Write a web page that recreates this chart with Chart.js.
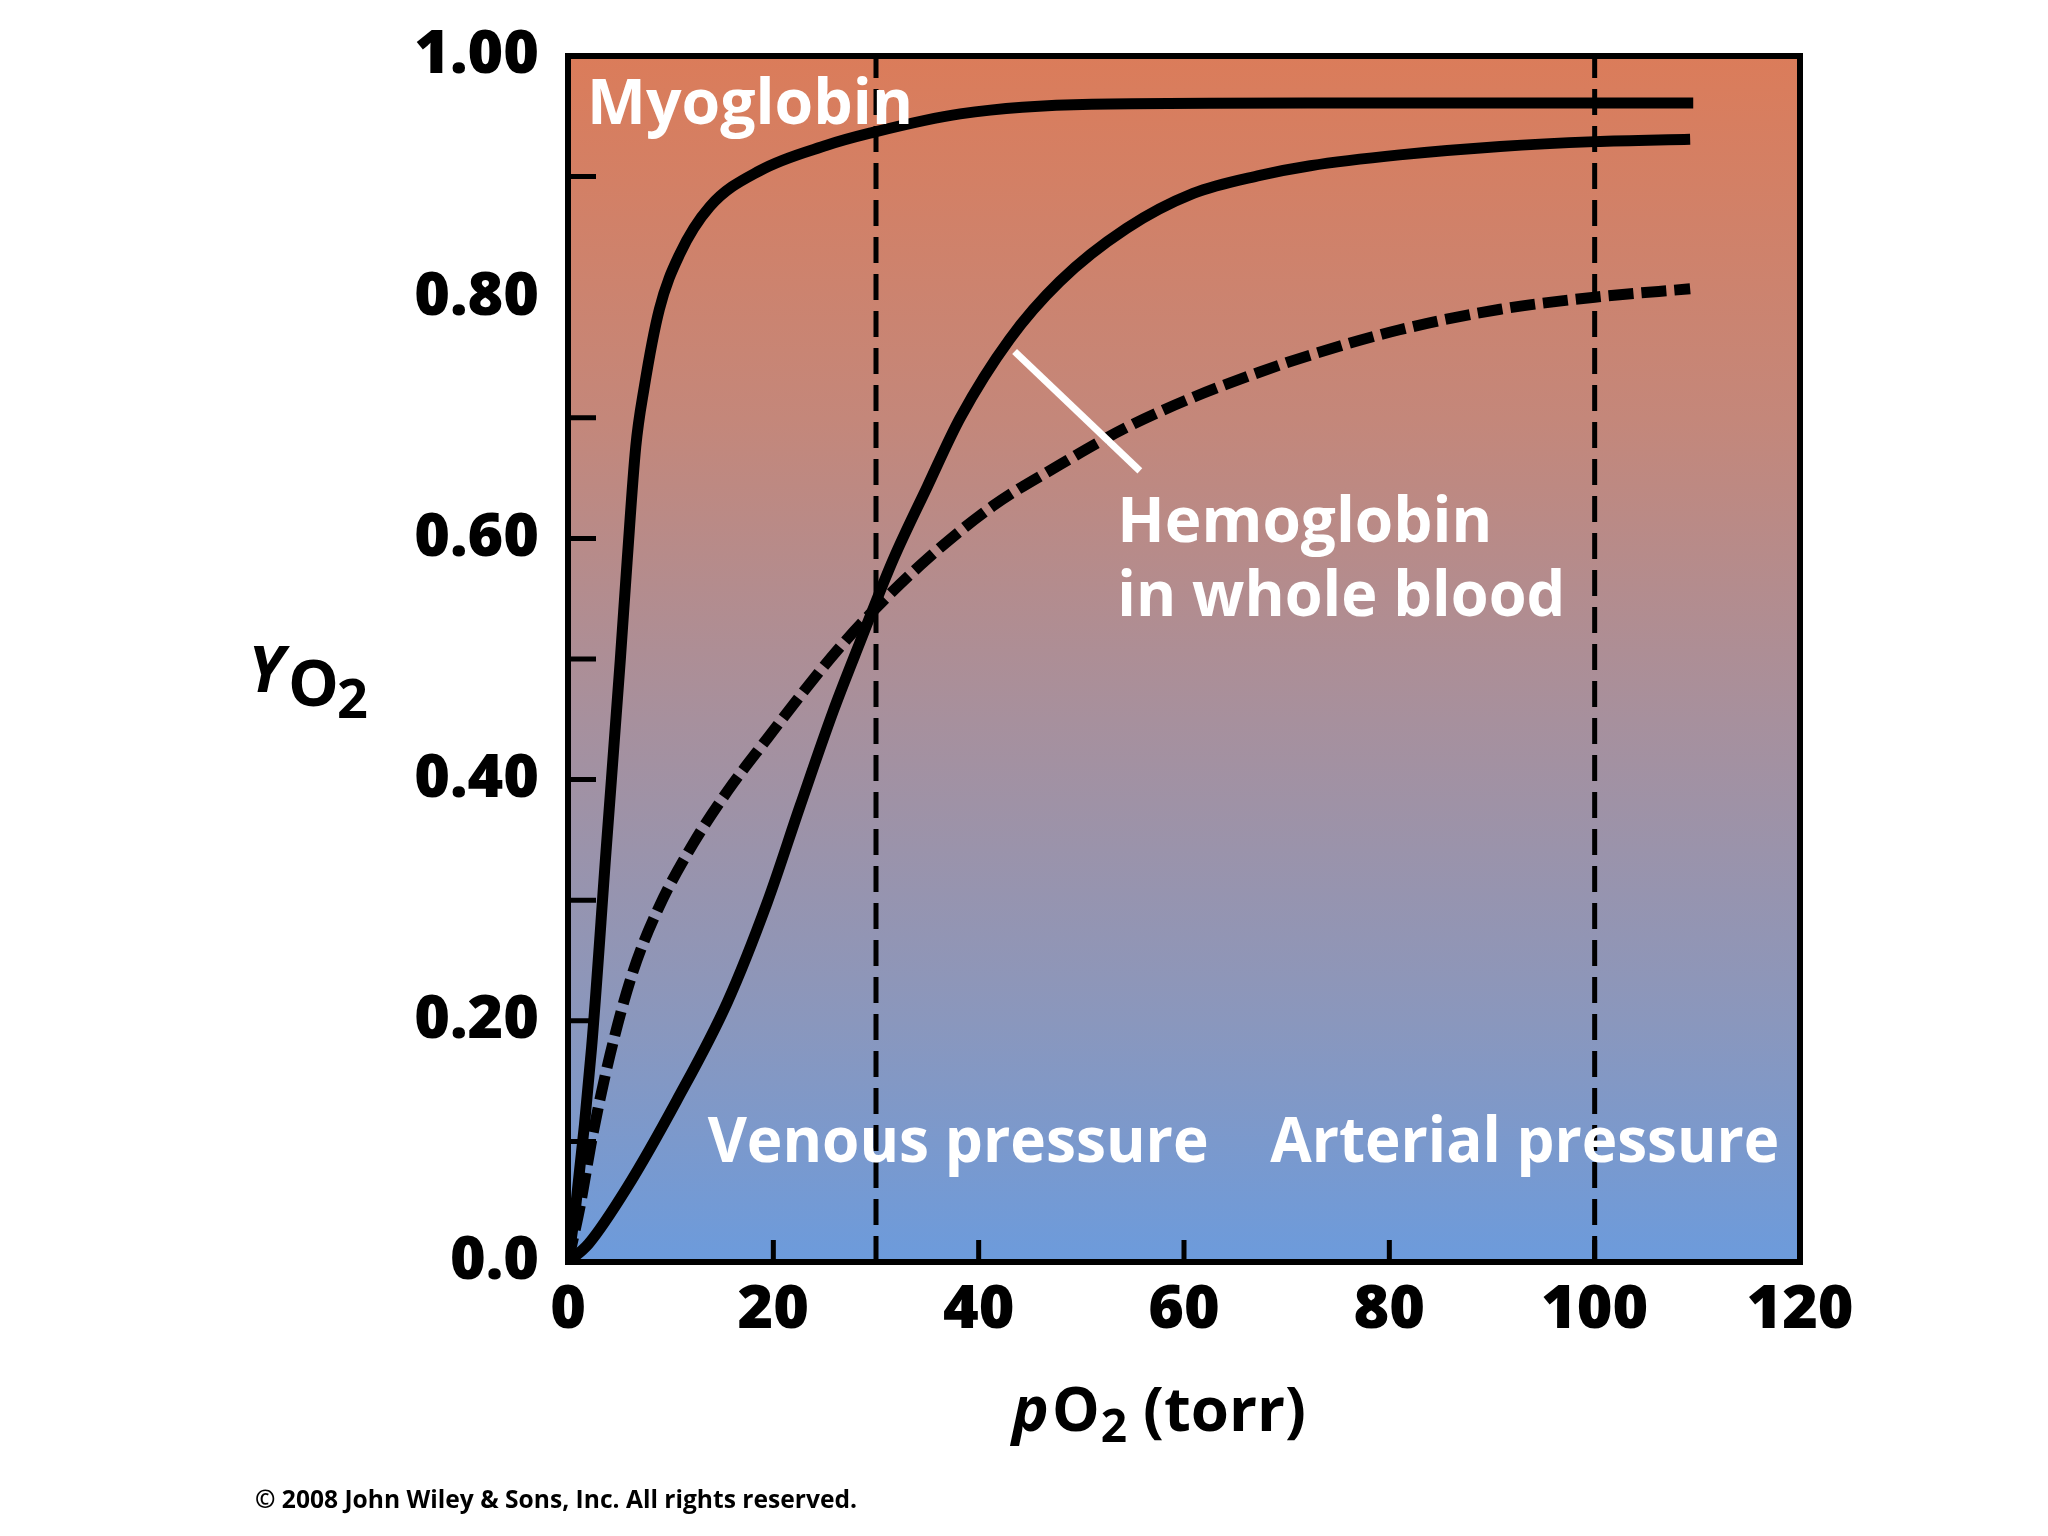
<!DOCTYPE html>
<html lang="en">
<head>
<meta charset="UTF-8">
<title>Oxygen binding curves</title>
<style>
    html, body { margin: 0; padding: 0; background: #fff; }
    canvas { display: block; }
</style>
</head>
<body>
<canvas id="chart" width="2048" height="1536"></canvas>
<script src="https://cdn.jsdelivr.net/npm/chart.js@4.4.1/dist/chart.umd.min.js"></script>
<script>
// values (pO2 in torr, fractional saturation)
const myoX = [0, 0.8, 2.3, 3.7, 5.1, 5.75, 6.6, 7.4, 8.9, 10.9, 13.8, 18.7, 25.2, 29.4, 38.2, 51, 72, 90, 109.6];
const myoY = [0, 0.05, 0.178, 0.34, 0.50, 0.58, 0.676, 0.724, 0.79, 0.836, 0.875, 0.905, 0.926, 0.936, 0.952, 0.96, 0.961, 0.961, 0.961];

const hbX = [0, 2, 5.7, 10.6, 15.5, 19.4, 22.6, 25.8, 28.4, 31.7, 35, 38.2, 43, 47.9, 54.4, 60.9, 67.4, 72.3, 81, 90.8, 100, 109.3];
const hbY = [0, 0.015, 0.061, 0.134, 0.215, 0.298, 0.378, 0.456, 0.513, 0.583, 0.643, 0.70, 0.765, 0.813, 0.857, 0.886, 0.901, 0.909, 0.918, 0.925, 0.929, 0.931];

const dashX = [0, 1.15, 2.4, 4.1, 6.3, 8.9, 12.2, 15.5, 19.4, 23.5, 26.2, 29.4, 35, 41.4, 47.9, 54.4, 60.9, 67.4, 72.3, 81, 90.8, 100, 109.3];
const dashY = [0, 0.045, 0.105, 0.172, 0.24, 0.295, 0.347, 0.39, 0.434, 0.479, 0.507, 0.537, 0.583, 0.627, 0.661, 0.692, 0.717, 0.738, 0.752, 0.773, 0.79, 0.80, 0.807];

const venous = 30;
const arterial = 100;
const pointerX = [43.5, 55.7];
const pointerY = [0.755, 0.656];

const xTicks = [0, 20, 40, 60, 80, 100, 120];
const xTickMarks = [20, 40, 60, 80, 100];
const yTicks = [0, 0.2, 0.4, 0.6, 0.8, 1.0];
const yTickLabels = ['0.0', '0.20', '0.40', '0.60', '0.80', '1.00'];
const yTickMarks = [0.1, 0.2, 0.3, 0.4, 0.5, 0.6, 0.7, 0.9];

const notes = [
    { text: 'Myoglobin', x: 1.85, y: 0.9436, w: 326 },
    { text: 'Hemoglobin', x: 53.5, y: 0.597, w: 375 },
    { text: 'in whole blood', x: 53.5, y: 0.536, w: 448 },
    { text: 'Venous pressure', x: 13.6, y: 0.083, w: 501 },
    { text: 'Arterial pressure', x: 68.4, y: 0.083, w: 509 }
];

const FONT = '"Open Sans", "Noto Sans", sans-serif';

function pts(xs, ys) {
    return xs.map((x, i) => ({ x: x, y: ys[i] }));
}

// draw text stretched/squeezed to a target width (the original face is narrower)
function fitText(ctx, text, x, y, w) {
    const m = ctx.measureText(text).width;
    ctx.save();
    ctx.translate(x, y);
    ctx.scale(w / m, 1);
    ctx.fillText(text, 0, 0);
    ctx.restore();
}

const backdrop = {
    id: 'backdrop',
    beforeDatasetsDraw(chart) {
        const { ctx, chartArea: a } = chart;
        const g = ctx.createLinearGradient(0, a.top, 0, a.bottom);
        g.addColorStop(0, '#db7c5a');
        g.addColorStop(0.3, '#c4877a');
        g.addColorStop(0.55, '#a7909d');
        g.addColorStop(0.8, '#8a97bd');
        g.addColorStop(1, '#6c9bdc');
        ctx.save();
        ctx.fillStyle = g;
        ctx.fillRect(a.left, a.top, a.right - a.left, a.bottom - a.top);
        ctx.restore();
    }
};

const decorations = {
    id: 'decorations',
    afterDatasetsDraw(chart) {
        const { ctx, chartArea: a } = chart;
        const xs = chart.scales.x, ys = chart.scales.y;
        ctx.save();

        // frame and inward ticks
        ctx.strokeStyle = '#000';
        ctx.lineWidth = 6;
        ctx.strokeRect(a.left, a.top, a.right - a.left, a.bottom - a.top);
        ctx.lineWidth = 5;
        ctx.beginPath();
        yTickMarks.forEach(v => {
            const y = ys.getPixelForValue(v);
            ctx.moveTo(a.left, y);
            ctx.lineTo(a.left + 28, y);
        });
        xTickMarks.forEach(v => {
            const x = xs.getPixelForValue(v);
            ctx.moveTo(x, a.bottom);
            ctx.lineTo(x, a.bottom - 22);
        });
        ctx.stroke();

        // white labels inside the plot
        ctx.fillStyle = '#fff';
        ctx.textAlign = 'left';
        ctx.textBaseline = 'alphabetic';
        ctx.font = '700 63px ' + FONT;
        notes.forEach(n => {
            fitText(ctx, n.text, xs.getPixelForValue(n.x), ys.getPixelForValue(n.y), n.w);
        });

        // x title: pO2 (torr)
        ctx.fillStyle = '#000';
        const base = 1431;
        let x = 1012;
        ctx.font = 'italic 700 62px ' + FONT;
        ctx.fillText('p', x, base);
        x += ctx.measureText('p').width + 3;
        ctx.font = '700 60px ' + FONT;
        ctx.fillText('O', x, base);
        x += ctx.measureText('O').width + 1;
        ctx.font = '700 46px ' + FONT;
        ctx.fillText('2', x, base + 11);
        x += ctx.measureText('2').width + 16;
        ctx.font = '700 60px ' + FONT;
        fitText(ctx, '(torr)', x, base, 1306 - x);

        // y title: Y O2
        ctx.font = 'italic 700 64px ' + FONT;
        ctx.fillText('Y', 248, 692);
        ctx.font = '700 64px ' + FONT;
        ctx.fillText('O', 288, 706);
        ctx.font = '700 54px ' + FONT;
        ctx.fillText('2', 337, 718);

        // credit line
        ctx.font = '700 25px ' + FONT;
        fitText(ctx, '\u00A9 2008 John Wiley & Sons, Inc. All rights reserved.', 255, 1508, 602);

        ctx.restore();
    }
};

const base = { pointRadius: 0, pointHoverRadius: 0, showLine: true, fill: false, borderColor: '#000' };

new Chart(document.getElementById('chart'), {
    type: 'scatter',
    data: {
        datasets: [
            Object.assign({}, base, { label: 'pointer', data: pts(pointerX, pointerY), borderColor: '#fff', borderWidth: 7, tension: 0 }),
            Object.assign({}, base, { label: 'Myoglobin', data: pts(myoX, myoY), borderWidth: 11, cubicInterpolationMode: 'monotone' }),
            Object.assign({}, base, { label: 'Hemoglobin in whole blood', data: pts(hbX, hbY), borderWidth: 11, cubicInterpolationMode: 'monotone' }),
            Object.assign({}, base, { label: 'Noncooperative', data: pts(dashX, dashY), borderWidth: 11, borderDash: [25, 8], borderCapStyle: 'butt', cubicInterpolationMode: 'monotone' }),
            Object.assign({}, base, { label: 'Venous pressure', data: [{ x: venous, y: 0 }, { x: venous, y: 1 }], borderWidth: 5, borderDash: [26, 11] }),
            Object.assign({}, base, { label: 'Arterial pressure', data: [{ x: arterial, y: 0 }, { x: arterial, y: 1 }], borderWidth: 5, borderDash: [26, 11] })
        ]
    },
    options: {
        responsive: false,
        animation: false,
        devicePixelRatio: 1,
        layout: { padding: { top: 56, right: 248, left: 0, bottom: 0 } },
        plugins: { legend: { display: false }, tooltip: { enabled: false } },
        scales: {
            x: {
                type: 'linear',
                min: 0, max: 120,
                grid: { display: false, drawTicks: false },
                border: { display: false },
                afterBuildTicks: s => { s.ticks = xTicks.map(v => ({ value: v })); },
                afterFit: s => { s.height = 274; s.paddingLeft = 0; s.paddingRight = 0; },
                ticks: {
                    color: '#000',
                    padding: 12,
                    font: { family: FONT, size: 61, weight: '800' },
                    callback: v => String(v)
                }
            },
            y: {
                type: 'linear',
                min: 0, max: 1,
                grid: { display: false, drawTicks: false },
                border: { display: false },
                afterBuildTicks: s => { s.ticks = yTicks.map(v => ({ value: v })); },
                // keep the label overhang from pushing the plot area down
                afterFit: s => { s.width = 568; s.paddingTop = 0; s.paddingBottom = 0; },
                ticks: {
                    color: '#000',
                    padding: 29,
                    font: { family: FONT, size: 61, weight: '800' },
                    callback: (v, i) => yTickLabels[i]
                }
            }
        }
    },
    plugins: [backdrop, decorations]
});
</script>
</body>
</html>
